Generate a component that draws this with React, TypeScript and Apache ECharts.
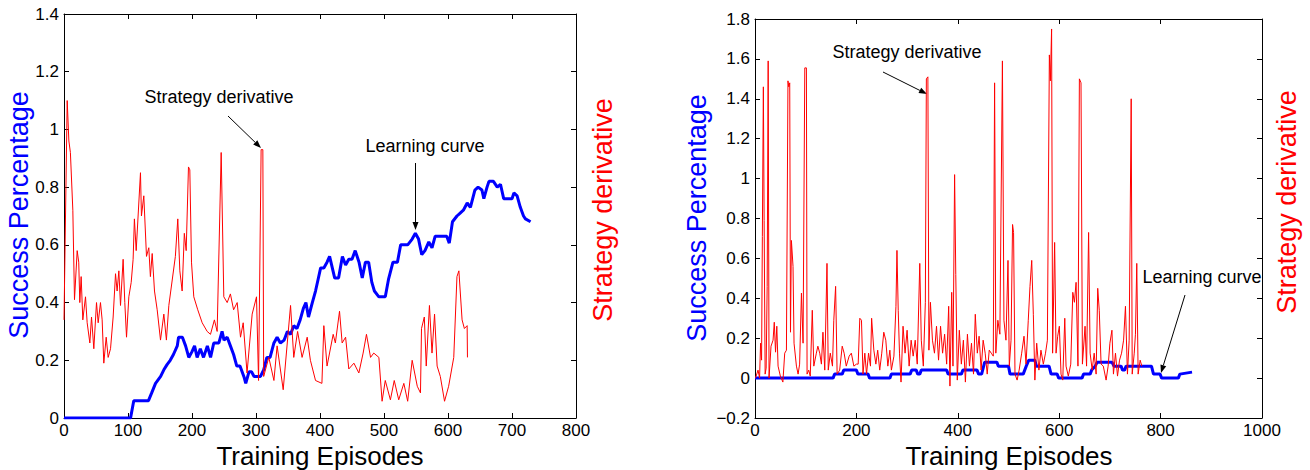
import React, { useEffect, useRef } from "react";
import * as echarts from "echarts";

// ---- Data (episode, value) ----
const leftLearning: [number, number][] = [
  [0,0],[104,0],[109,0.06],[132,0.06],[137,0.087],[143,0.12],[151,0.144],[156,0.167],[161,0.185],[166,0.2],[171,0.22],[177,0.25],[179,0.28],[185,0.28],[190,0.25],[195,0.21],[200,0.23],[204,0.25],[208,0.21],[213,0.24],[218,0.21],[224,0.25],[229,0.21],[234,0.26],[242,0.26],[247,0.3],[250,0.27],[255,0.28],[260,0.25],[265,0.22],[270,0.18],[275,0.18],[281,0.144],[284,0.12],[289,0.16],[293,0.16],[297,0.144],[307,0.144],[312,0.167],[317,0.21],[322,0.21],[328,0.26],[333,0.28],[338,0.26],[344,0.27],[349,0.3],[354,0.29],[359,0.32],[364,0.31],[369,0.34],[374,0.38],[378,0.4],[382,0.35],[388,0.4],[393,0.44],[397,0.48],[401,0.52],[406,0.52],[411,0.54],[415,0.56],[423,0.485],[429,0.485],[435,0.56],[440,0.53],[445,0.55],[450,0.55],[455,0.58],[461,0.54],[466,0.485],[471,0.54],[476,0.54],[481,0.47],[485,0.44],[492,0.42],[502,0.42],[507,0.48],[514,0.54],[521,0.54],[526,0.6],[537,0.6],[544,0.62],[549,0.64],[554,0.62],[559,0.566],[564,0.58],[570,0.61],[575,0.59],[580,0.63],[598,0.63],[602,0.606],[607,0.68],[614,0.7],[619,0.71],[624,0.72],[630,0.745],[635,0.73],[642,0.79],[647,0.8],[653,0.79],[656,0.76],[661,0.8],[664,0.82],[671,0.82],[677,0.8],[682,0.81],[687,0.76],[700,0.76],[703,0.78],[708,0.77],[713,0.73],[718,0.7],[721,0.69],[729,0.68]
];

const leftDerivative: [number, number][] = [
  [0,0.34],[5,1.1],[7.6,0.96],[10,0.92],[13.8,0.72],[16.4,0.41],[20.6,0.58],[23,0.54],[24.7,0.4],[26.8,0.49],[29.4,0.34],[33.6,0.42],[36.2,0.33],[40.4,0.26],[43,0.35],[46.6,0.24],[50.8,0.4],[53.4,0.33],[57,0.4],[59.6,0.34],[62.2,0.19],[65.9,0.28],[69,0.21],[72.7,0.24],[76.8,0.35],[80.5,0.5],[83,0.44],[85.7,0.51],[88.3,0.39],[92.4,0.55],[95,0.4],[97.7,0.28],[101.3,0.42],[105,0.47],[108,0.55],[110,0.69],[112.8,0.58],[119.5,0.85],[121,0.7],[124.7,0.77],[128.9,0.56],[132.5,0.59],[135,0.49],[137.8,0.57],[141.4,0.44],[145.6,0.375],[150.8,0.27],[156,0.36],[160,0.27],[163.8,0.39],[174,0.56],[177.8,0.69],[181,0.51],[184.6,0.44],[188,0.64],[190.9,0.58],[194.5,0.87],[196.6,0.86],[199.2,0.54],[202.8,0.42],[209,0.375],[215.9,0.33],[223.7,0.3],[228.9,0.29],[235,0.34],[239.3,0.3],[245.6,0.92],[249.7,0.42],[255,0.4],[260,0.43],[265,0.375],[270.6,0.4],[275.8,0.28],[280,0.33],[286,0.156],[294,0.36],[300.8,0.42],[304,0.13],[308,0.93],[310.7,0.93],[312,0.144],[320,0.21],[328,0.13],[333,0.25],[342.5,0.098],[354,0.39],[359,0.21],[365,0.3],[372,0.21],[380,0.28],[385,0.2],[393,0.13],[403,0.12],[406,0.32],[411,0.18],[420.6,0.29],[424,0.26],[430.5,0.37],[434.6,0.26],[440,0.28],[445,0.17],[453,0.19],[460.7,0.156],[467.4,0.225],[472.6,0.29],[479,0.21],[484,0.225],[492,0.21],[497,0.058],[502,0.13],[510,0.063],[516,0.13],[523,0.063],[531,0.12],[537,0.058],[544,0.2],[552,0.11],[557,0.087],[558.6,0.31],[563,0.35],[566,0.18],[571,0.39],[575,0.225],[579,0.36],[583,0.18],[588,0.144],[594.6,0.058],[601,0.11],[609,0.21],[614,0.49],[617,0.51],[622,0.34],[625.6,0.31],[629.9,0.32],[630.4,0.21]
];

const rightLearning: [number, number][] = [
  [0,0],[154,0],[157,0.02],[172,0.02],[175,0.04],[200,0.04],[203,0.02],[223,0.02],[226,0],[266,0],[269,0.02],[306,0.02],[309,0.04],[318,0.04],[321,0.02],[325,0.02],[328,0.04],[378,0.04],[381,0.02],[407,0.02],[410,0.04],[438,0.04],[441,0.02],[447,0.02],[453,0.08],[477,0.08],[480,0.06],[500,0.06],[503,0.02],[529,0.02],[532,0.04],[535,0.06],[540,0.09],[552,0.09],[555,0.06],[580,0.06],[584,0.02],[596,0.02],[599,0],[645,0],[648,0.02],[661,0.02],[664,0.04],[671,0.06],[675,0.08],[704,0.08],[708,0.06],[722,0.06],[725,0.04],[729,0.04],[732,0.06],[782,0.06],[786,0.02],[799,0.02],[802,0],[835,0],[838,0.02],[862,0.03]
];

const rightDerivative: [number, number][] = [
  [1,0],[6,0.04],[9,0],[11,0.175],[13,0.09],[14.5,0.71],[16.5,1.46],[18,0.79],[20,0.02],[22,0.05],[24,0.46],[26,1.59],[27.7,0],[31.6,0.16],[35.6,0.19],[38,0.28],[40.5,0.13],[43,0.26],[45.5,0.06],[50,0.01],[55,-0.02],[58.6,0.125],[62,0.14],[65,1.49],[66.7,1.46],[68.5,1.48],[70,0.23],[71.8,0.69],[75,0.56],[77,0.175],[81.7,0.06],[85,0.02],[88,0.07],[91.6,0.426],[94.8,0.175],[98.2,1.555],[101.4,1.555],[102.7,0.02],[106,0.04],[109,0.01],[113,0.34],[116,0.06],[121,0.125],[124,0.16],[127.7,0.125],[131,0.07],[134,0.23],[137.6,0.04],[142,0.575],[144.5,0.04],[148.5,0.125],[152.8,0.06],[155.4,0.29],[159,0.46],[162,0.02],[167,0.04],[172,0.16],[175.8,0.125],[180,0.06],[185.7,0.11],[190,0.125],[195,0.06],[200,0.07],[203.5,0.07],[206.7,0.3],[210,0.29],[213,0.02],[216.6,0.125],[220,0.02],[224,0.125],[227.8,0.06],[230,0.3],[234.4,0.14],[238.4,0.07],[242,0.14],[246,0.04],[250,0.125],[254,0.23],[258,0.19],[262,0.06],[266,0.14],[269,0.04],[274,0.11],[278,0.36],[280,0.64],[282.5,0.34],[285,0.125],[288,-0.02],[292,0.26],[296,0.125],[300,0.24],[304,0.06],[308,0.19],[312,0.11],[316,0.19],[320,0.07],[325,0.575],[328,0.19],[332,0.06],[336,0.38],[338,1.5],[341,1.51],[343,0.14],[346,0.38],[350,0.19],[354,0.125],[358,0.26],[362,0.09],[366,0.26],[370,0.125],[374,0.22],[378,0.07],[382,0.36],[384.5,-0.04],[388,0.43],[390.5,0.06],[393.7,1.02],[396,0.52],[399,-0.01],[403,0.24],[407,0.07],[411,0.19],[415,-0.02],[419,0.22],[423,0.06],[427,0.175],[431,0.02],[434.5,0.32],[438.5,0.125],[442,0.21],[446,0.04],[450,0.19],[454,0.125],[458,0.02],[462,0.14],[466,0.125],[470,0.11],[472.6,1.48],[475,0.125],[479,0.29],[483,0.22],[488,1.59],[491,0.29],[495,0.19],[499,0.59],[501.6,0.06],[505,0.19],[508,0.77],[510,0.73],[512.8,0.02],[517,-0.01],[521,0.04],[526,0.125],[530.6,0.21],[534.6,0.07],[539,0.29],[542.4,0.46],[545.8,0.59],[549,0.32],[552,-0.01],[555.6,0.175],[560,0.04],[564,0.14],[568.7,0.07],[573,0.125],[576.7,0.19],[580.6,1.62],[582.6,1.49],[585,1.75],[587,0.125],[591,0.68],[593.8,0.125],[597,0.21],[600.3,0.26],[603.6,0.02],[607,-0.01],[611,0.3],[613.5,0.06],[618,0.01],[622.8,0.07],[626.8,0.43],[630,0.38],[633.3,0.48],[637,0.06],[639.8,1.5],[643,1.48],[645.8,0.07],[651,0.26],[654,0.06],[658,0.73],[661,0.125],[665,0.04],[669,0.125],[672.8,0.02],[676,0.45],[679,0.34],[682.6,0.07],[687,0.06],[692.5,-0.01],[696.5,0.06],[700,0.175],[704,0.24],[707,0.02],[711,0.125],[715,0.01],[719,0.09],[723,0.125],[727,0.19],[730.7,0.36],[734.6,0.02],[738,0.19],[742,1.4],[744,0.02],[748,0.125],[750.4,0.22],[753,0.575],[755.7,0.02],[759.7,0.09],[763,0.06]
];

const FONT = "'Liberation Sans', Arial, Helvetica, sans-serif";
const BLUE = "#0000ff";
const RED = "#ff0000";

function fmt(v: number): string {
  const r = Math.round(v * 10) / 10;
  return r < 0 ? "\u2212" + String(-r) : String(r);
}

function arrow(x1: number, y1: number, x2: number, y2: number) {
  const ang = Math.atan2(y2 - y1, x2 - x1);
  const L = 8, W = 3;
  const bx = x2 - L * Math.cos(ang), by = y2 - L * Math.sin(ang);
  const px = -Math.sin(ang) * W, py = Math.cos(ang) * W;
  return [
    { type: "line", silent: true, shape: { x1, y1, x2: bx, y2: by }, style: { stroke: "#000", lineWidth: 1 } },
    { type: "polygon", silent: true, shape: { points: [[x2, y2], [bx + px, by + py], [bx - px, by - py]] }, style: { fill: "#000" } },
  ];
}

function label(text: string, x: number, y: number, size: number, color: string, rotate = false) {
  return {
    type: "text",
    x, y,
    rotation: rotate ? Math.PI / 2 : 0,
    silent: true,
    style: { text, fill: color, font: `${size}px ${FONT}`, align: "center", verticalAlign: "middle" },
  };
}

const tickStyle = {
  axisLine: { show: true, onZero: false, lineStyle: { color: "#000", width: 1 } },
  axisTick: { show: true, inside: true, length: 5, lineStyle: { color: "#000", width: 1 } },
  splitLine: { show: false },
};
const shownLabel = { show: true, color: "#000", fontSize: 17, fontFamily: FONT, formatter: fmt };

export default function App() {
  const ref = useRef<HTMLDivElement>(null);
  useEffect(() => {
    if (!ref.current) return;
    const chart = echarts.init(ref.current, undefined, { renderer: "svg" });
    chart.setOption({
      animation: false,
      backgroundColor: "#fff",
      grid: [
        { left: 64, top: 14, width: 512, height: 404 },
        { left: 755, top: 19, width: 507, height: 399 },
      ],
      xAxis: [
        { gridIndex: 0, type: "value", min: 0, max: 800, interval: 100, position: "bottom", ...tickStyle, axisLabel: { ...shownLabel, margin: 4 } },
        { gridIndex: 0, type: "value", min: 0, max: 800, interval: 100, position: "top", ...tickStyle, axisLabel: { show: false } },
        { gridIndex: 1, type: "value", min: 0, max: 1000, interval: 200, position: "bottom", ...tickStyle, axisLabel: { ...shownLabel, margin: 4 } },
        { gridIndex: 1, type: "value", min: 0, max: 1000, interval: 200, position: "top", ...tickStyle, axisLabel: { show: false } },
      ],
      yAxis: [
        { gridIndex: 0, type: "value", min: 0, max: 1.4, interval: 0.2, position: "left", ...tickStyle, axisLabel: { ...shownLabel, margin: 5 } },
        { gridIndex: 0, type: "value", min: 0, max: 1.4, interval: 0.2, position: "right", ...tickStyle, axisLabel: { show: false } },
        { gridIndex: 1, type: "value", min: -0.2, max: 1.8, interval: 0.2, position: "left", ...tickStyle, axisLabel: { ...shownLabel, margin: 5 } },
        { gridIndex: 1, type: "value", min: -0.2, max: 1.8, interval: 0.2, position: "right", ...tickStyle, axisLabel: { show: false } },
      ],
      series: [
        { name: "Learning curve", type: "line", xAxisIndex: 0, yAxisIndex: 0, data: leftLearning, showSymbol: false, lineStyle: { color: BLUE, width: 3 }, z: 2 },
        { name: "Strategy derivative", type: "line", xAxisIndex: 0, yAxisIndex: 1, data: leftDerivative, showSymbol: false, lineStyle: { color: RED, width: 1 }, z: 3 },
        { name: "Learning curve ", type: "line", xAxisIndex: 2, yAxisIndex: 2, data: rightLearning, showSymbol: false, lineStyle: { color: BLUE, width: 3 }, z: 2 },
        { name: "Strategy derivative ", type: "line", xAxisIndex: 2, yAxisIndex: 3, data: rightDerivative, showSymbol: false, lineStyle: { color: RED, width: 1 }, z: 3 },
      ],
      graphic: [
        label("Success Percentage", 19, 215, 27, BLUE, true),
        label("Strategy derivative", 603, 210, 27, RED, true),
        label("Training Episodes", 320, 456, 26, "#000"),
        label("Success Percentage", 697, 218, 27, BLUE, true),
        label("Strategy derivative", 1287, 202, 27, RED, true),
        label("Training Episodes", 1009, 456, 26, "#000"),
        label("Strategy derivative", 219, 97, 18, "#000"),
        ...arrow(228, 116, 261, 148),
        label("Learning curve", 425, 146, 18, "#000"),
        ...arrow(415.5, 163, 415.5, 230),
        label("Strategy derivative", 907, 52, 18, "#000"),
        ...arrow(883, 72, 927, 94),
        label("Learning curve", 1202, 277, 18, "#000"),
        ...arrow(1185, 295, 1161, 373),
      ],
    });
    return () => chart.dispose();
  }, []);
  return (
    <div
      ref={ref}
      style={{ position: "absolute", left: 0, top: 0, width: 1310, height: 470, background: "#fff" }}
    />
  );
}
